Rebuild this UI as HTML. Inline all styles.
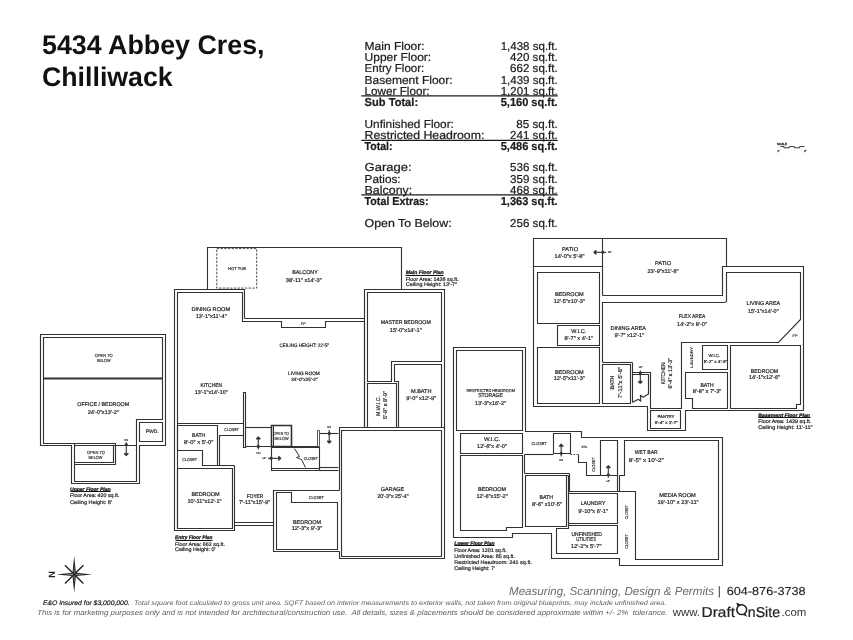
<!DOCTYPE html>
<html><head><meta charset="utf-8"><title>5434 Abbey Cres, Chilliwack</title>
<style>
html,body{margin:0;padding:0;background:#fff;}
body{width:853px;height:640px;overflow:hidden;font-family:"Liberation Sans",sans-serif;}
svg{display:block;}
svg text{font-family:"Liberation Sans",sans-serif;text-rendering:geometricPrecision;}
svg{filter:grayscale(1);}
</style></head><body>
<svg width="853" height="640" viewBox="0 0 853 640">
<rect x="0" y="0" width="853" height="640" fill="#ffffff"/>
<g id="title">
<text x="42" y="54.2" font-size="27" font-weight="bold" fill="#111" textLength="222.5" lengthAdjust="spacingAndGlyphs">5434 Abbey Cres,</text>
<text x="42" y="85.8" font-size="27" font-weight="bold" fill="#111" textLength="130.7" lengthAdjust="spacingAndGlyphs">Chilliwack</text>
</g>
<g id="table">
<text x="364.6" y="49.8" font-size="11.5" font-weight="normal" fill="#1c1c1c" stroke="#1c1c1c" stroke-width="0.22" textLength="60" lengthAdjust="spacingAndGlyphs">Main Floor:</text>
<text x="557.7" y="49.8" font-size="11.5" font-weight="normal" fill="#1c1c1c" stroke="#1c1c1c" stroke-width="0.22" text-anchor="end" textLength="57" lengthAdjust="spacingAndGlyphs">1,438 sq.ft.</text>
<text x="364.6" y="60.9" font-size="11.5" font-weight="normal" fill="#1c1c1c" stroke="#1c1c1c" stroke-width="0.22" textLength="66.6" lengthAdjust="spacingAndGlyphs">Upper Floor:</text>
<text x="557.7" y="60.9" font-size="11.5" font-weight="normal" fill="#1c1c1c" stroke="#1c1c1c" stroke-width="0.22" text-anchor="end" textLength="47.6" lengthAdjust="spacingAndGlyphs">420 sq.ft.</text>
<text x="364.6" y="72.4" font-size="11.5" font-weight="normal" fill="#1c1c1c" stroke="#1c1c1c" stroke-width="0.22" textLength="59.7" lengthAdjust="spacingAndGlyphs">Entry Floor:</text>
<text x="557.7" y="72.4" font-size="11.5" font-weight="normal" fill="#1c1c1c" stroke="#1c1c1c" stroke-width="0.22" text-anchor="end" textLength="47.6" lengthAdjust="spacingAndGlyphs">662 sq.ft.</text>
<text x="364.6" y="83.9" font-size="11.5" font-weight="normal" fill="#1c1c1c" stroke="#1c1c1c" stroke-width="0.22" textLength="88" lengthAdjust="spacingAndGlyphs">Basement Floor:</text>
<text x="557.7" y="83.9" font-size="11.5" font-weight="normal" fill="#1c1c1c" stroke="#1c1c1c" stroke-width="0.22" text-anchor="end" textLength="57" lengthAdjust="spacingAndGlyphs">1,439 sq.ft.</text>
<text x="364.6" y="94.7" font-size="11.5" font-weight="normal" fill="#1c1c1c" stroke="#1c1c1c" stroke-width="0.22" textLength="65" lengthAdjust="spacingAndGlyphs">Lower Floor:</text>
<text x="557.7" y="94.7" font-size="11.5" font-weight="normal" fill="#1c1c1c" stroke="#1c1c1c" stroke-width="0.22" text-anchor="end" textLength="57" lengthAdjust="spacingAndGlyphs">1,201 sq.ft.</text>
<text x="364.6" y="105.6" font-size="11.5" font-weight="bold" fill="#1c1c1c" stroke="#1c1c1c" stroke-width="0.22" textLength="53.5" lengthAdjust="spacingAndGlyphs">Sub Total:</text>
<text x="557.7" y="105.6" font-size="11.5" font-weight="bold" fill="#1c1c1c" stroke="#1c1c1c" stroke-width="0.22" text-anchor="end" textLength="57" lengthAdjust="spacingAndGlyphs">5,160 sq.ft.</text>
<text x="364.6" y="128.2" font-size="11.5" font-weight="normal" fill="#1c1c1c" stroke="#1c1c1c" stroke-width="0.22" textLength="89.3" lengthAdjust="spacingAndGlyphs">Unfinished Floor:</text>
<text x="557.7" y="128.2" font-size="11.5" font-weight="normal" fill="#1c1c1c" stroke="#1c1c1c" stroke-width="0.22" text-anchor="end" textLength="41.4" lengthAdjust="spacingAndGlyphs">85 sq.ft.</text>
<text x="364.6" y="139" font-size="11.5" font-weight="normal" fill="#1c1c1c" stroke="#1c1c1c" stroke-width="0.22" textLength="119.8" lengthAdjust="spacingAndGlyphs">Restricted Headroom:</text>
<text x="557.7" y="139" font-size="11.5" font-weight="normal" fill="#1c1c1c" stroke="#1c1c1c" stroke-width="0.22" text-anchor="end" textLength="47.6" lengthAdjust="spacingAndGlyphs">241 sq.ft.</text>
<text x="364.6" y="149.9" font-size="11.5" font-weight="bold" fill="#1c1c1c" stroke="#1c1c1c" stroke-width="0.22" textLength="27.9" lengthAdjust="spacingAndGlyphs">Total:</text>
<text x="557.7" y="149.9" font-size="11.5" font-weight="bold" fill="#1c1c1c" stroke="#1c1c1c" stroke-width="0.22" text-anchor="end" textLength="57" lengthAdjust="spacingAndGlyphs">5,486 sq.ft.</text>
<text x="364.6" y="171.2" font-size="11.5" font-weight="normal" fill="#1c1c1c" stroke="#1c1c1c" stroke-width="0.22" textLength="47" lengthAdjust="spacingAndGlyphs">Garage:</text>
<text x="557.7" y="171.2" font-size="11.5" font-weight="normal" fill="#1c1c1c" stroke="#1c1c1c" stroke-width="0.22" text-anchor="end" textLength="47.6" lengthAdjust="spacingAndGlyphs">536 sq.ft.</text>
<text x="364.6" y="182.7" font-size="11.5" font-weight="normal" fill="#1c1c1c" stroke="#1c1c1c" stroke-width="0.22" textLength="36" lengthAdjust="spacingAndGlyphs">Patios:</text>
<text x="557.7" y="182.7" font-size="11.5" font-weight="normal" fill="#1c1c1c" stroke="#1c1c1c" stroke-width="0.22" text-anchor="end" textLength="47.6" lengthAdjust="spacingAndGlyphs">359 sq.ft.</text>
<text x="364.6" y="193.9" font-size="11.5" font-weight="normal" fill="#1c1c1c" stroke="#1c1c1c" stroke-width="0.22" textLength="47.6" lengthAdjust="spacingAndGlyphs">Balcony:</text>
<text x="557.7" y="193.9" font-size="11.5" font-weight="normal" fill="#1c1c1c" stroke="#1c1c1c" stroke-width="0.22" text-anchor="end" textLength="47.6" lengthAdjust="spacingAndGlyphs">468 sq.ft.</text>
<text x="364.6" y="205" font-size="11.5" font-weight="bold" fill="#1c1c1c" stroke="#1c1c1c" stroke-width="0.22" textLength="64" lengthAdjust="spacingAndGlyphs">Total Extras:</text>
<text x="557.7" y="205" font-size="11.5" font-weight="bold" fill="#1c1c1c" stroke="#1c1c1c" stroke-width="0.22" text-anchor="end" textLength="57" lengthAdjust="spacingAndGlyphs">1,363 sq.ft.</text>
<text x="364.6" y="226.7" font-size="11.5" font-weight="normal" fill="#1c1c1c" stroke="#1c1c1c" stroke-width="0.22" textLength="87" lengthAdjust="spacingAndGlyphs">Open To Below:</text>
<text x="557.7" y="226.7" font-size="11.5" font-weight="normal" fill="#1c1c1c" stroke="#1c1c1c" stroke-width="0.22" text-anchor="end" textLength="47.6" lengthAdjust="spacingAndGlyphs">256 sq.ft.</text>
<path d="M361.3,95.85 L557.7,95.85" fill="none" stroke="#1a1a1a" stroke-width="1.2" />
<path d="M361.3,140.45 L557.7,140.45" fill="none" stroke="#1a1a1a" stroke-width="1.2" />
<path d="M361.3,194.95 L557.7,194.95" fill="none" stroke="#1a1a1a" stroke-width="1.2" />
</g>
<g id="upper">
<path d="M40.5,334.5 L165.5,334.5 L165.5,445.5 L139.5,445.5 L139.5,483.5 L71.5,483.5 L71.5,445.5 L40.5,445.5 Z" fill="none" stroke="#323232" stroke-width="1.12" />
<path d="M43.5,337.5 L162.5,337.5 L162.5,419.5 L136.5,419.5 L136.5,481.5 L74.5,481.5 L74.5,443.5 L43.5,443.5 Z" fill="none" stroke="#323232" stroke-width="1.12" />
<path d="M139.5,422.5 L162.5,422.5 L162.5,441.5 L139.5,441.5 Z" fill="none" stroke="#323232" stroke-width="1.12" />
<path d="M43.5,378.5 L162.5,378.5" fill="none" stroke="#323232" stroke-width="1.8" />
<path d="M74.5,445.5 L136.5,445.5" fill="none" stroke="#323232" stroke-width="1.12" />
<path d="M74.5,443.5 L115.5,443.5 L115.5,464.5 L74.5,464.5" fill="none" stroke="#323232" stroke-width="1.12" />
<path d="M113.5,445.5 L113.5,462.5 L74.5,462.5" fill="none" stroke="#323232" stroke-width="1.12" />
<path d="M126.25,455 L126.25,442.3" fill="none" stroke="#323232" stroke-width="1.1" />
<path d="M124.15,453.5 Q125.095,455.6 126.25,455.8 Q127.405,455.6 128.35,453.5 Z" fill="#323232" stroke="#323232" stroke-width="0.8" stroke-linejoin="round"/>
<circle cx="126.25" cy="444.5" r="1.55" fill="#323232"/>
</g>
<g id="main">
<path d="M207.5,289.5 L207.5,247.5 L401.5,247.5 L401.5,289.5" fill="none" stroke="#323232" stroke-width="1.12" />
<path d="M216.8,248.6 L256.7,248.6 L256.7,288.1 L216.8,288.1 Z" fill="none" stroke="#3a3a3a" stroke-width="0.9" stroke-dasharray="2.4 1.3"/>
<path d="M244.5,318.5 L244.5,289.5 L174.5,289.5 L174.5,530.5 L234.5,530.5 L234.5,525.5 L273.5,525.5" fill="none" stroke="#323232" stroke-width="1.12" />
<path d="M244.5,318.5 L364.5,318.5" fill="none" stroke="#323232" stroke-width="1.12" />
<path d="M177.5,528.5 L177.5,292.5 L242.5,292.5 L242.5,321.5 L281.5,321.5 L281.5,327.5 L325.5,327.5 L325.5,321.5 L364.5,321.5" fill="none" stroke="#323232" stroke-width="1.12" />
<path d="M364.5,289.5 L444.5,289.5 L444.5,427.5 L364.5,427.5 Z" fill="none" stroke="#323232" stroke-width="1.12" />
<path d="M367.5,292.5 L441.5,292.5 L441.5,361.5 L391.5,361.5 L391.5,381.5 L367.5,381.5 Z" fill="none" stroke="#323232" stroke-width="1.12" />
<path d="M364.5,321.5 L364.5,427.5" fill="none" stroke="#323232" stroke-width="1.12" />
<path d="M394.5,364.5 L441.5,364.5 L441.5,427.5 L398.5,427.5 L398.5,381.5 L394.5,381.5 Z" fill="none" stroke="#323232" stroke-width="1.12" />
<path d="M367.5,383.5 L396.5,383.5 L396.5,427.5 L367.5,427.5 Z" fill="none" stroke="#323232" stroke-width="1.12" />
<path d="M339.5,490.5 L339.5,427.5 L444.5,427.5 L444.5,558.5 L339.5,558.5 L339.5,551.5" fill="none" stroke="#323232" stroke-width="1.12" />
<path d="M341.5,430.5 L441.5,430.5 L441.5,556.5 L341.5,556.5 Z" fill="none" stroke="#323232" stroke-width="1.12" />
<path d="M177.5,423.5 L243.5,423.5" fill="none" stroke="#323232" stroke-width="1.12" />
<path d="M243.5,435.5 L243.5,392.5 L245.5,392.5 L245.5,447.5 L243.5,447.5 L243.5,435.5" fill="none" stroke="#323232" stroke-width="1.12" />
<path d="M177.5,425.5 L217.5,425.5 L217.5,465.5 L202.5,465.5 L202.5,450.5 L177.5,450.5 Z" fill="none" stroke="#323232" stroke-width="1.12" />
<path d="M243.5,435.5 L219.5,435.5 L219.5,465.5" fill="none" stroke="#323232" stroke-width="1.12" />
<path d="M202.5,465.5 L234.5,465.5" fill="none" stroke="#323232" stroke-width="1.12" />
<path d="M177.5,468.5 L232.5,468.5 L232.5,528.5 L177.5,528.5 Z" fill="none" stroke="#323232" stroke-width="1.12" />
<path d="M234.5,465.5 L234.5,525.5" fill="none" stroke="#323232" stroke-width="1.12" />
<path d="M234.5,522.5 L273.5,522.5" fill="none" stroke="#323232" stroke-width="1.12" />
<path d="M245.5,427.5 L271.5,427.5" fill="none" stroke="#323232" stroke-width="1.12" />
<path d="M271.5,425.5 L291.5,425.5 L291.5,446.5 L271.5,446.5 Z" fill="none" stroke="#323232" stroke-width="1.6" />
<path d="M273.5,425.5 L273.5,446.5" fill="none" stroke="#323232" stroke-width="1.0" />
<path d="M245.5,446.5 L318.5,446.5" fill="none" stroke="#323232" stroke-width="1.12" />
<path d="M317.5,430.5 L319.5,430.5 L319.5,446.5 L317.5,446.5 Z" fill="none" stroke="#323232" stroke-width="0.8" />
<path d="M319.5,433.5 L338.5,433.5" fill="none" stroke="#323232" stroke-width="1.12" />
<path d="M271.5,447.5 L319.5,447.5 L319.5,470.5 L271.5,470.5 Z" fill="none" stroke="#323232" stroke-width="1.12" />
<path d="M271.5,468.5 L319.5,468.5" fill="none" stroke="#323232" stroke-width="1.12" />
<path d="M294.5,448.5 L299.5,456.5 L296.5,457.5 L301.5,459.5 L305.5,467.5" fill="none" stroke="#323232" stroke-width="1.0" />
<path d="M319.5,467.5 L338.5,467.5" fill="none" stroke="#323232" stroke-width="1.12" />
<path d="M319.5,470.5 L338.5,470.5" fill="none" stroke="#323232" stroke-width="1.12" />
<path d="M339.5,490.5 L273.5,490.5 L273.5,551.5 L339.5,551.5" fill="none" stroke="#323232" stroke-width="1.12" />
<path d="M276.5,492.5 L291.5,492.5 L291.5,502.5 L337.5,502.5 L337.5,549.5 L276.5,549.5 Z" fill="none" stroke="#323232" stroke-width="1.12" />
<path d="M258.3,437.6 L258.3,449.6" fill="none" stroke="#323232" stroke-width="1.1" />
<path d="M256.2,439.1 Q257.145,437 258.3,436.8 Q259.455,437 260.4,439.1 Z" fill="#323232" stroke="#323232" stroke-width="0.8" stroke-linejoin="round"/>
<circle cx="258.3" cy="446.4" r="1.55" fill="#323232"/>
<path d="M280.1,458.3 L268.1,458.3" fill="none" stroke="#323232" stroke-width="1.1" />
<path d="M278.6,456.2 Q280.7,457.145 280.9,458.3 Q280.7,459.455 278.6,460.4 Z" fill="#323232" stroke="#323232" stroke-width="0.8" stroke-linejoin="round"/>
<circle cx="271.1" cy="458.3" r="1.55" fill="#323232"/>
<path d="M329.2,442.5 L329.2,429.8" fill="none" stroke="#323232" stroke-width="1.1" />
<path d="M327.1,441 Q328.045,443.1 329.2,443.3 Q330.355,443.1 331.3,441 Z" fill="#323232" stroke="#323232" stroke-width="0.8" stroke-linejoin="round"/>
<circle cx="329.2" cy="433.4" r="1.55" fill="#323232"/>
</g>
<g id="lower">
<path d="M453.5,347.5 L525.5,347.5 L525.5,431.5 L581.5,431.5 L581.5,437.5 L722.5,437.5 L722.5,565.5 L619.5,565.5 L619.5,558.5 L551.5,558.5 L551.5,533.5 L512.5,533.5 L512.5,537.5 L453.5,537.5 Z" fill="none" stroke="#323232" stroke-width="1.12" />
<path d="M456.5,350.5 L522.5,350.5 L522.5,430.5 L456.5,430.5 Z" fill="none" stroke="#323232" stroke-width="1.12" />
<path d="M460.5,433.5 L522.5,433.5 L522.5,453.5 L460.5,453.5 Z" fill="none" stroke="#323232" stroke-width="1.12" />
<path d="M460.5,455.5 L522.5,455.5 L522.5,527.5 L506.5,527.5 L506.5,530.5 L460.5,530.5 Z" fill="none" stroke="#323232" stroke-width="1.12" />
<path d="M524.5,454.5 L553.5,454.5" fill="none" stroke="#323232" stroke-width="1.12" />
<path d="M553.5,433.5 L570.5,433.5 L570.5,453.5 L553.5,453.5 Z" fill="none" stroke="#323232" stroke-width="1.12" />
<path d="M570.5,454.5 L578.5,454.5" fill="none" stroke="#323232" stroke-width="0.9" stroke-dasharray="1.7 1.3"/>
<path d="M578.5,454.5 L578.5,462.5 L586.5,462.5 L586.5,475.5 L600.5,475.5" fill="none" stroke="#323232" stroke-width="1.12" />
<path d="M600.5,440.5 L617.5,440.5 L617.5,475.5 L600.5,475.5 Z" fill="none" stroke="#323232" stroke-width="1.12" />
<path d="M617.5,475.5 L617.5,491.5" fill="none" stroke="#323232" stroke-width="1.12" />
<path d="M524.5,454.5 L524.5,473.5" fill="none" stroke="#323232" stroke-width="1.12" />
<path d="M525.5,475.5 L566.5,475.5 L566.5,526.5 L525.5,526.5 Z" fill="none" stroke="#323232" stroke-width="1.12" />
<path d="M524.5,473.5 L569.5,473.5" fill="none" stroke="#323232" stroke-width="1.12" />
<path d="M569.5,473.5 L569.5,473.5 L569.5,491.5 L635.5,491.5 L635.5,559.5 L718.5,559.5 L718.5,440.5 L624.5,440.5 L624.5,475.5 L619.5,475.5 L619.5,491.5" fill="none" stroke="#323232" stroke-width="1.12" />
<path d="M566.5,475.5 L568.5,475.5" fill="none" stroke="#323232" stroke-width="1.12" />
<path d="M568.5,475.5 L568.5,526.5" fill="none" stroke="#323232" stroke-width="1.12" />
<path d="M568.5,493.5 L617.5,493.5 L617.5,523.5 L568.5,523.5 Z" fill="none" stroke="#323232" stroke-width="1.12" />
<path d="M556.5,528.5 L568.5,528.5 L568.5,525.5 L617.5,525.5 L617.5,553.5 L556.5,553.5 Z" fill="none" stroke="#323232" stroke-width="1.12" />
<path d="M561.2,444.8 L561.2,456.4" fill="none" stroke="#323232" stroke-width="1.1" />
<path d="M559.1,446.3 Q560.045,444.2 561.2,444 Q562.355,444.2 563.3,446.3 Z" fill="#323232" stroke="#323232" stroke-width="0.8" stroke-linejoin="round"/>
<circle cx="561.2" cy="453.2" r="1.55" fill="#323232"/>
<path d="M608.3,466.3 L608.3,477.8" fill="none" stroke="#323232" stroke-width="1.1" />
<path d="M606.2,467.8 Q607.145,465.7 608.3,465.5 Q609.455,465.7 610.4,467.8 Z" fill="#323232" stroke="#323232" stroke-width="0.8" stroke-linejoin="round"/>
<circle cx="608.3" cy="474.8" r="1.55" fill="#323232"/>
</g>
<g id="basement">
<path d="M533.5,238.5 L726.5,238.5 L726.5,266.5 L803.5,266.5 L803.5,410.5 L685.5,410.5 L685.5,430.5 L647.5,430.5 L647.5,406.5 L533.5,406.5 Z" fill="none" stroke="#323232" stroke-width="1.12" />
<path d="M602.5,238.5 L602.5,295.5" fill="none" stroke="#323232" stroke-width="1.12" />
<path d="M533.5,266.5 L602.5,266.5" fill="none" stroke="#323232" stroke-width="1.12" />
<path d="M602.5,295.5 L722.5,295.5 L722.5,266.5 L726.5,266.5" fill="none" stroke="#323232" stroke-width="1.12" />
<path d="M602.5,362.5 L602.5,302.5 L724.5,302.5 L726.5,301.5 L726.5,272.5 L800.5,272.5 L800.5,319.5 L778.5,342.5 L681.5,342.5 L681.5,408.5 L650.5,408.5 L650.5,372.5 L632.5,372.5 L632.5,362.5" fill="none" stroke="#323232" stroke-width="1.12" />
<path d="M602.5,362.5 L632.5,362.5" fill="none" stroke="#323232" stroke-width="1.12" />
<path d="M537.5,272.5 L599.5,272.5 L599.5,323.5 L537.5,323.5 Z" fill="none" stroke="#323232" stroke-width="1.12" />
<path d="M557.5,325.5 L599.5,325.5 L599.5,345.5 L557.5,345.5 Z" fill="none" stroke="#323232" stroke-width="1.12" />
<path d="M537.5,347.5 L599.5,347.5 L599.5,403.5 L537.5,403.5 Z" fill="none" stroke="#323232" stroke-width="1.12" />
<path d="M602.5,364.5 L630.5,364.5 L630.5,403.5 L602.5,403.5 Z" fill="none" stroke="#323232" stroke-width="1.12" />
<path d="M632.5,402.5 L632.5,372.5 L650.5,372.5" fill="none" stroke="#323232" stroke-width="1.12" />
<path d="M632.5,374.5 L648.5,374.5 L648.5,394.5" fill="none" stroke="#323232" stroke-width="1.12" />
<path d="M632.6,402.3 L638.4,399.3 L640.8,401.2 L640.4,395.2 L643.1,397.25 L648.4,394" fill="none" stroke="#323232" stroke-width="1.1" stroke-linejoin="round"/>
<path d="M650.5,410.5 L680.5,410.5 L680.5,428.5 L650.5,428.5 Z" fill="none" stroke="#323232" stroke-width="1.12" />
<path d="M685.5,372.5 L727.5,372.5 L727.5,408.5 L692.5,408.5 L692.5,398.5 L685.5,398.5 Z" fill="none" stroke="#323232" stroke-width="1.12" />
<path d="M702.5,345.5 L727.5,345.5 L727.5,369.5 L702.5,369.5 Z" fill="none" stroke="#323232" stroke-width="1.12" />
<path d="M730.5,345.5 L800.5,345.5 L800.5,404.5 L796.5,404.5 L796.5,408.5 L730.5,408.5 Z" fill="none" stroke="#323232" stroke-width="1.12" />
<path d="M594.55,252.3 L606.2,252.3" fill="none" stroke="#323232" stroke-width="1.1" />
<path d="M596.05,250.2 Q593.95,251.145 593.75,252.3 Q593.95,253.455 596.05,254.4 Z" fill="#323232" stroke="#323232" stroke-width="0.8" stroke-linejoin="round"/>
<circle cx="602.9" cy="252.3" r="1.55" fill="#323232"/>
<path d="M640.3,382.8 L640.3,370.4" fill="none" stroke="#323232" stroke-width="1.1" />
<path d="M638.2,381.3 Q639.145,383.4 640.3,383.6 Q641.455,383.4 642.4,381.3 Z" fill="#323232" stroke="#323232" stroke-width="0.8" stroke-linejoin="round"/>
<circle cx="640.3" cy="373" r="1.55" fill="#323232"/>
</g>
<g id="labels">
<text x="103.75" y="357.184" font-size="4.4" text-anchor="middle" font-weight="normal" font-style="normal" fill="#262626" textLength="18" lengthAdjust="spacingAndGlyphs" stroke="#262626" stroke-width="0.16">OPEN TO</text>
<text x="103.75" y="362.284" font-size="4.4" text-anchor="middle" font-weight="normal" font-style="normal" fill="#262626" textLength="13.75" lengthAdjust="spacingAndGlyphs" stroke="#262626" stroke-width="0.16">BELOW</text>
<text x="103.25" y="406.23" font-size="5.5" text-anchor="middle" font-weight="normal" font-style="normal" fill="#262626" textLength="52" lengthAdjust="spacingAndGlyphs" stroke="#262626" stroke-width="0.2">OFFICE / BEDROOM</text>
<text x="103.25" y="414.48" font-size="5.5" text-anchor="middle" font-weight="normal" font-style="normal" fill="#262626" textLength="31.25" lengthAdjust="spacingAndGlyphs" stroke="#262626" stroke-width="0.2">24'-0"x13'-2"</text>
<text x="152.2" y="433.1" font-size="5" text-anchor="middle" font-weight="normal" font-style="normal" fill="#262626" textLength="13" lengthAdjust="spacingAndGlyphs" stroke="#262626" stroke-width="0.2">PWD.</text>
<text x="126.25" y="441.044" font-size="2.9" text-anchor="middle" font-weight="normal" font-style="normal" fill="#262626" textLength="3.8" lengthAdjust="spacingAndGlyphs" stroke="#262626" stroke-width="0.16">DN</text>
<text x="96" y="453.684" font-size="4.4" text-anchor="middle" font-weight="normal" font-style="normal" fill="#262626" textLength="17.8" lengthAdjust="spacingAndGlyphs" stroke="#262626" stroke-width="0.16">OPEN TO</text>
<text x="95.5" y="458.684" font-size="4.4" text-anchor="middle" font-weight="normal" font-style="normal" fill="#262626" textLength="14" lengthAdjust="spacingAndGlyphs" stroke="#262626" stroke-width="0.16">BELOW</text>
<text x="237" y="270.262" font-size="4.2" text-anchor="middle" font-weight="normal" font-style="normal" fill="#262626" textLength="18" lengthAdjust="spacingAndGlyphs" stroke="#262626" stroke-width="0.16">HOT TUB</text>
<text x="305" y="274.48" font-size="5.5" text-anchor="middle" font-weight="normal" font-style="normal" fill="#262626" textLength="25.5" lengthAdjust="spacingAndGlyphs" stroke="#262626" stroke-width="0.2">BALCONY</text>
<text x="303.75" y="281.98" font-size="5.5" text-anchor="middle" font-weight="normal" font-style="normal" fill="#262626" textLength="36" lengthAdjust="spacingAndGlyphs" stroke="#262626" stroke-width="0.2">38'-11" x14'-3"</text>
<text x="210.75" y="310.73" font-size="5.5" text-anchor="middle" font-weight="normal" font-style="normal" fill="#262626" textLength="38.75" lengthAdjust="spacingAndGlyphs" stroke="#262626" stroke-width="0.2">DINING ROOM</text>
<text x="211.25" y="318.23" font-size="5.5" text-anchor="middle" font-weight="normal" font-style="normal" fill="#262626" textLength="31" lengthAdjust="spacingAndGlyphs" stroke="#262626" stroke-width="0.2">13'-1"x11'-4"</text>
<text x="303.25" y="324.896" font-size="3.6" text-anchor="middle" font-weight="normal" font-style="normal" fill="#262626" textLength="5" lengthAdjust="spacingAndGlyphs" stroke="#262626" stroke-width="0.16">FP</text>
<text x="304.25" y="346.8" font-size="5" text-anchor="middle" font-weight="normal" font-style="normal" fill="#262626" textLength="49.75" lengthAdjust="spacingAndGlyphs" stroke="#262626" stroke-width="0.2">CEILING HEIGHT: 22'-5"</text>
<text x="303.95" y="374.828" font-size="4.8" text-anchor="middle" font-weight="normal" font-style="normal" fill="#262626" textLength="31.8" lengthAdjust="spacingAndGlyphs" stroke="#262626" stroke-width="0.2">LIVING ROOM</text>
<text x="304.4" y="380.656" font-size="4.6" text-anchor="middle" font-weight="normal" font-style="normal" fill="#262626" textLength="26.4" lengthAdjust="spacingAndGlyphs" stroke="#262626" stroke-width="0.2">24'-0"x25'-2"</text>
<text x="211.25" y="387.48" font-size="5.5" text-anchor="middle" font-weight="normal" font-style="normal" fill="#262626" textLength="21.75" lengthAdjust="spacingAndGlyphs" stroke="#262626" stroke-width="0.2">KITCHEN</text>
<text x="211.25" y="394.48" font-size="5.5" text-anchor="middle" font-weight="normal" font-style="normal" fill="#262626" textLength="33" lengthAdjust="spacingAndGlyphs" stroke="#262626" stroke-width="0.2">13'-1"x14'-10"</text>
<text x="231.6" y="431.112" font-size="4.2" text-anchor="middle" font-weight="normal" font-style="normal" fill="#262626" textLength="14.5" lengthAdjust="spacingAndGlyphs" stroke="#262626" stroke-width="0.16">CLOSET</text>
<text x="198.6" y="437.28" font-size="5.5" text-anchor="middle" font-weight="normal" font-style="normal" fill="#262626" textLength="13" lengthAdjust="spacingAndGlyphs" stroke="#262626" stroke-width="0.2">BATH</text>
<text x="198.6" y="443.58" font-size="5.5" text-anchor="middle" font-weight="normal" font-style="normal" fill="#262626" textLength="29.3" lengthAdjust="spacingAndGlyphs" stroke="#262626" stroke-width="0.2">8'-0" x 5'-0"</text>
<text x="189.6" y="461.312" font-size="4.2" text-anchor="middle" font-weight="normal" font-style="normal" fill="#262626" textLength="14.8" lengthAdjust="spacingAndGlyphs" stroke="#262626" stroke-width="0.16">CLOSET</text>
<text x="205.5" y="496.23" font-size="5.5" text-anchor="middle" font-weight="normal" font-style="normal" fill="#262626" textLength="28.25" lengthAdjust="spacingAndGlyphs" stroke="#262626" stroke-width="0.2">BEDROOM</text>
<text x="204.5" y="502.73" font-size="5.5" text-anchor="middle" font-weight="normal" font-style="normal" fill="#262626" textLength="34.25" lengthAdjust="spacingAndGlyphs" stroke="#262626" stroke-width="0.2">10'-11"x12'-1"</text>
<text x="255" y="497.73" font-size="5.5" text-anchor="middle" font-weight="normal" font-style="normal" fill="#262626" textLength="16.5" lengthAdjust="spacingAndGlyphs" stroke="#262626" stroke-width="0.2">FOYER</text>
<text x="254.5" y="504.48" font-size="5.5" text-anchor="middle" font-weight="normal" font-style="normal" fill="#262626" textLength="31.25" lengthAdjust="spacingAndGlyphs" stroke="#262626" stroke-width="0.2">7'-11"x15'-9"</text>
<text x="316.25" y="498.512" font-size="4.2" text-anchor="middle" font-weight="normal" font-style="normal" fill="#262626" textLength="15" lengthAdjust="spacingAndGlyphs" stroke="#262626" stroke-width="0.16">CLOSET</text>
<text x="307" y="523.98" font-size="5.5" text-anchor="middle" font-weight="normal" font-style="normal" fill="#262626" textLength="28" lengthAdjust="spacingAndGlyphs" stroke="#262626" stroke-width="0.2">BEDROOM</text>
<text x="307" y="530.23" font-size="5.5" text-anchor="middle" font-weight="normal" font-style="normal" fill="#262626" textLength="30.75" lengthAdjust="spacingAndGlyphs" stroke="#262626" stroke-width="0.2">12'-3"x 9'-3"</text>
<text x="281.1" y="434.584" font-size="4.4" text-anchor="middle" font-weight="normal" font-style="normal" fill="#262626" textLength="15.5" lengthAdjust="spacingAndGlyphs" stroke="#262626" stroke-width="0.16">OPEN TO</text>
<text x="281.6" y="440.184" font-size="4.4" text-anchor="middle" font-weight="normal" font-style="normal" fill="#262626" textLength="14" lengthAdjust="spacingAndGlyphs" stroke="#262626" stroke-width="0.16">BELOW</text>
<text x="310.8" y="460.412" font-size="4.2" text-anchor="middle" font-weight="normal" font-style="normal" fill="#262626" textLength="14.2" lengthAdjust="spacingAndGlyphs" stroke="#262626" stroke-width="0.16">CLOSET</text>
<text x="258.5" y="453.944" font-size="2.9" text-anchor="middle" font-weight="normal" font-style="normal" fill="#262626" textLength="3.8" lengthAdjust="spacingAndGlyphs" stroke="#262626" stroke-width="0.16">DN</text>
<text x="264.5" y="459.344" font-size="2.9" text-anchor="middle" font-weight="normal" font-style="normal" fill="#262626" textLength="3.8" lengthAdjust="spacingAndGlyphs" stroke="#262626" stroke-width="0.16">UP</text>
<text x="329.2" y="427.944" font-size="2.9" text-anchor="middle" font-weight="normal" font-style="normal" fill="#262626" textLength="3.8" lengthAdjust="spacingAndGlyphs" stroke="#262626" stroke-width="0.16">DN</text>
<text x="405.75" y="324.48" font-size="5.5" text-anchor="middle" font-weight="normal" font-style="normal" fill="#262626" textLength="50" lengthAdjust="spacingAndGlyphs" stroke="#262626" stroke-width="0.2">MASTER BEDROOM</text>
<text x="405.75" y="331.98" font-size="5.5" text-anchor="middle" font-weight="normal" font-style="normal" fill="#262626" textLength="32" lengthAdjust="spacingAndGlyphs" stroke="#262626" stroke-width="0.2">15'-0"x14'-1"</text>
<text x="421.25" y="393.23" font-size="5.5" text-anchor="middle" font-weight="normal" font-style="normal" fill="#262626" textLength="20.5" lengthAdjust="spacingAndGlyphs" stroke="#262626" stroke-width="0.2">M.BATH</text>
<text x="421.25" y="400.23" font-size="5.5" text-anchor="middle" font-weight="normal" font-style="normal" fill="#262626" textLength="30" lengthAdjust="spacingAndGlyphs" stroke="#262626" stroke-width="0.2">9'-0" x12'-9"</text>
<text x="377.8" y="407.98" font-size="5.5" text-anchor="middle" font-weight="normal" font-style="normal" fill="#262626" textLength="20" lengthAdjust="spacingAndGlyphs" transform="rotate(-90 377.8 406)" stroke="#262626" stroke-width="0.2">M.W.I.C.</text>
<text x="385.2" y="406.88" font-size="5.5" text-anchor="middle" font-weight="normal" font-style="normal" fill="#262626" textLength="28" lengthAdjust="spacingAndGlyphs" transform="rotate(-90 385.2 404.9)" stroke="#262626" stroke-width="0.2">5'-8" x 8'-9"</text>
<text x="392.5" y="490.73" font-size="5.5" text-anchor="middle" font-weight="normal" font-style="normal" fill="#262626" textLength="23.5" lengthAdjust="spacingAndGlyphs" stroke="#262626" stroke-width="0.2">GARAGE</text>
<text x="393" y="497.73" font-size="5.5" text-anchor="middle" font-weight="normal" font-style="normal" fill="#262626" textLength="31.25" lengthAdjust="spacingAndGlyphs" stroke="#262626" stroke-width="0.2">20'-3"x 25'-4"</text>
<text x="490.8" y="392.048" font-size="4.3" text-anchor="middle" font-weight="normal" font-style="normal" fill="#262626" textLength="48.5" lengthAdjust="spacingAndGlyphs" stroke="#262626" stroke-width="0.16">RESTRICTED HEADROOM</text>
<text x="490.5" y="397.38" font-size="5.5" text-anchor="middle" font-weight="normal" font-style="normal" fill="#262626" textLength="24.5" lengthAdjust="spacingAndGlyphs" stroke="#262626" stroke-width="0.2">STORAGE</text>
<text x="490.5" y="404.88" font-size="5.5" text-anchor="middle" font-weight="normal" font-style="normal" fill="#262626" textLength="31.25" lengthAdjust="spacingAndGlyphs" stroke="#262626" stroke-width="0.2">13'-3"x16'-2"</text>
<text x="492" y="440.73" font-size="5.5" text-anchor="middle" font-weight="normal" font-style="normal" fill="#262626" textLength="16.25" lengthAdjust="spacingAndGlyphs" stroke="#262626" stroke-width="0.2">W.I.C.</text>
<text x="492" y="447.73" font-size="5.5" text-anchor="middle" font-weight="normal" font-style="normal" fill="#262626" textLength="30" lengthAdjust="spacingAndGlyphs" stroke="#262626" stroke-width="0.2">12'-6"x 4'-0"</text>
<text x="492" y="490.73" font-size="5.5" text-anchor="middle" font-weight="normal" font-style="normal" fill="#262626" textLength="28.25" lengthAdjust="spacingAndGlyphs" stroke="#262626" stroke-width="0.2">BEDROOM</text>
<text x="492" y="497.73" font-size="5.5" text-anchor="middle" font-weight="normal" font-style="normal" fill="#262626" textLength="31.25" lengthAdjust="spacingAndGlyphs" stroke="#262626" stroke-width="0.2">12'-6"x15'-2"</text>
<text x="539" y="444.812" font-size="4.2" text-anchor="middle" font-weight="normal" font-style="normal" fill="#262626" textLength="15.2" lengthAdjust="spacingAndGlyphs" stroke="#262626" stroke-width="0.16">CLOSET</text>
<text x="561.25" y="460.544" font-size="2.9" text-anchor="middle" font-weight="normal" font-style="normal" fill="#262626" textLength="3.8" lengthAdjust="spacingAndGlyphs" stroke="#262626" stroke-width="0.16">DN</text>
<text x="584.4" y="448.18" font-size="3" text-anchor="middle" font-weight="normal" font-style="normal" fill="#262626" textLength="5.9" lengthAdjust="spacingAndGlyphs" stroke="#262626" stroke-width="0.16">STO.</text>
<text x="593.2" y="466.212" font-size="4.2" text-anchor="middle" font-weight="normal" font-style="normal" fill="#262626" textLength="14.8" lengthAdjust="spacingAndGlyphs" transform="rotate(-90 593.2 464.7)" stroke="#262626" stroke-width="0.16">CLOSET</text>
<text x="608.3" y="482.044" font-size="2.9" text-anchor="middle" font-weight="normal" font-style="normal" fill="#262626" textLength="3.8" lengthAdjust="spacingAndGlyphs" stroke="#262626" stroke-width="0.16">UP</text>
<text x="546.25" y="499.48" font-size="5.5" text-anchor="middle" font-weight="normal" font-style="normal" fill="#262626" textLength="13.5" lengthAdjust="spacingAndGlyphs" stroke="#262626" stroke-width="0.2">BATH</text>
<text x="547" y="506.23" font-size="5.5" text-anchor="middle" font-weight="normal" font-style="normal" fill="#262626" textLength="30" lengthAdjust="spacingAndGlyphs" stroke="#262626" stroke-width="0.2">8'-6" x10'-5"</text>
<text x="593" y="505.23" font-size="5.5" text-anchor="middle" font-weight="normal" font-style="normal" fill="#262626" textLength="24.75" lengthAdjust="spacingAndGlyphs" stroke="#262626" stroke-width="0.2">LAUNDRY</text>
<text x="593" y="513.23" font-size="5.5" text-anchor="middle" font-weight="normal" font-style="normal" fill="#262626" textLength="29.75" lengthAdjust="spacingAndGlyphs" stroke="#262626" stroke-width="0.2">9'-10"x 6'-1"</text>
<text x="586.7" y="535.58" font-size="5.5" text-anchor="middle" font-weight="normal" font-style="normal" fill="#262626" textLength="30.5" lengthAdjust="spacingAndGlyphs" stroke="#262626" stroke-width="0.2">UNFINISHED</text>
<text x="586.1" y="540.88" font-size="5.5" text-anchor="middle" font-weight="normal" font-style="normal" fill="#262626" textLength="19.7" lengthAdjust="spacingAndGlyphs" stroke="#262626" stroke-width="0.2">UTILITIES</text>
<text x="586.1" y="547.68" font-size="5.5" text-anchor="middle" font-weight="normal" font-style="normal" fill="#262626" textLength="30.8" lengthAdjust="spacingAndGlyphs" stroke="#262626" stroke-width="0.2">12'-2"x 5'-7"</text>
<text x="626.2" y="513.812" font-size="4.2" text-anchor="middle" font-weight="normal" font-style="normal" fill="#262626" textLength="14" lengthAdjust="spacingAndGlyphs" transform="rotate(-90 626.2 512.3)" stroke="#262626" stroke-width="0.16">CLOSET</text>
<text x="626.2" y="543.112" font-size="4.2" text-anchor="middle" font-weight="normal" font-style="normal" fill="#262626" textLength="14.4" lengthAdjust="spacingAndGlyphs" transform="rotate(-90 626.2 541.6)" stroke="#262626" stroke-width="0.16">CLOSET</text>
<text x="646.25" y="454.48" font-size="5.5" text-anchor="middle" font-weight="normal" font-style="normal" fill="#262626" textLength="23" lengthAdjust="spacingAndGlyphs" stroke="#262626" stroke-width="0.2">WET BAR</text>
<text x="646.25" y="462.48" font-size="5.5" text-anchor="middle" font-weight="normal" font-style="normal" fill="#262626" textLength="35" lengthAdjust="spacingAndGlyphs" stroke="#262626" stroke-width="0.2">8'-5"  x  10'-2"</text>
<text x="677.5" y="496.98" font-size="5.5" text-anchor="middle" font-weight="normal" font-style="normal" fill="#262626" textLength="36.5" lengthAdjust="spacingAndGlyphs" stroke="#262626" stroke-width="0.2">MEDIA ROOM</text>
<text x="678" y="504.48" font-size="5.5" text-anchor="middle" font-weight="normal" font-style="normal" fill="#262626" textLength="41.25" lengthAdjust="spacingAndGlyphs" stroke="#262626" stroke-width="0.2">19'-10" x 23'-11"</text>
<text x="570" y="250.73" font-size="5.5" text-anchor="middle" font-weight="normal" font-style="normal" fill="#262626" textLength="16" lengthAdjust="spacingAndGlyphs" stroke="#262626" stroke-width="0.2">PATIO</text>
<text x="569.5" y="258.23" font-size="5.5" text-anchor="middle" font-weight="normal" font-style="normal" fill="#262626" textLength="30" lengthAdjust="spacingAndGlyphs" stroke="#262626" stroke-width="0.2">14'-0"x 5'-8"</text>
<text x="609.8" y="253.344" font-size="2.9" text-anchor="middle" font-weight="normal" font-style="normal" fill="#262626" textLength="3.8" lengthAdjust="spacingAndGlyphs" stroke="#262626" stroke-width="0.16">UP</text>
<text x="663" y="265.23" font-size="5.5" text-anchor="middle" font-weight="normal" font-style="normal" fill="#262626" textLength="16.25" lengthAdjust="spacingAndGlyphs" stroke="#262626" stroke-width="0.2">PATIO</text>
<text x="663" y="273.23" font-size="5.5" text-anchor="middle" font-weight="normal" font-style="normal" fill="#262626" textLength="31.25" lengthAdjust="spacingAndGlyphs" stroke="#262626" stroke-width="0.2">23'-9"x11'-6"</text>
<text x="569.25" y="295.73" font-size="5.5" text-anchor="middle" font-weight="normal" font-style="normal" fill="#262626" textLength="28.75" lengthAdjust="spacingAndGlyphs" stroke="#262626" stroke-width="0.2">BEDROOM</text>
<text x="569.25" y="302.73" font-size="5.5" text-anchor="middle" font-weight="normal" font-style="normal" fill="#262626" textLength="31.25" lengthAdjust="spacingAndGlyphs" stroke="#262626" stroke-width="0.2">12'-5"x10'-3"</text>
<text x="578.75" y="333.23" font-size="5.5" text-anchor="middle" font-weight="normal" font-style="normal" fill="#262626" textLength="15" lengthAdjust="spacingAndGlyphs" stroke="#262626" stroke-width="0.2">W.I.C.</text>
<text x="578.75" y="340.23" font-size="5.5" text-anchor="middle" font-weight="normal" font-style="normal" fill="#262626" textLength="28.75" lengthAdjust="spacingAndGlyphs" stroke="#262626" stroke-width="0.2">8'-7" x 4'-1"</text>
<text x="628.25" y="329.98" font-size="5.5" text-anchor="middle" font-weight="normal" font-style="normal" fill="#262626" textLength="35.5" lengthAdjust="spacingAndGlyphs" stroke="#262626" stroke-width="0.2">DINING AREA</text>
<text x="629.25" y="336.98" font-size="5.5" text-anchor="middle" font-weight="normal" font-style="normal" fill="#262626" textLength="29.75" lengthAdjust="spacingAndGlyphs" stroke="#262626" stroke-width="0.2">9'-7" x12'-1"</text>
<text x="692" y="318.23" font-size="5.5" text-anchor="middle" font-weight="normal" font-style="normal" fill="#262626" textLength="26.75" lengthAdjust="spacingAndGlyphs" stroke="#262626" stroke-width="0.2">FLEX AREA</text>
<text x="692" y="326.23" font-size="5.5" text-anchor="middle" font-weight="normal" font-style="normal" fill="#262626" textLength="30" lengthAdjust="spacingAndGlyphs" stroke="#262626" stroke-width="0.2">14'-2"x 8'-0"</text>
<text x="569.25" y="373.98" font-size="5.5" text-anchor="middle" font-weight="normal" font-style="normal" fill="#262626" textLength="28.75" lengthAdjust="spacingAndGlyphs" stroke="#262626" stroke-width="0.2">BEDROOM</text>
<text x="569.25" y="380.23" font-size="5.5" text-anchor="middle" font-weight="normal" font-style="normal" fill="#262626" textLength="31.25" lengthAdjust="spacingAndGlyphs" stroke="#262626" stroke-width="0.2">12'-5"x11'-3"</text>
<text x="691.75" y="358.868" font-size="3.8" text-anchor="middle" font-weight="normal" font-style="normal" fill="#262626" textLength="20.5" lengthAdjust="spacingAndGlyphs" transform="rotate(-90 691.75 357.5)" stroke="#262626" stroke-width="0.16">LAUNDRY</text>
<text x="714.4" y="356.548" font-size="4.3" text-anchor="middle" font-weight="normal" font-style="normal" fill="#262626" textLength="11.8" lengthAdjust="spacingAndGlyphs" stroke="#262626" stroke-width="0.2">W.I.C.</text>
<text x="715.4" y="362.748" font-size="4.3" text-anchor="middle" font-weight="normal" font-style="normal" fill="#262626" textLength="23.5" lengthAdjust="spacingAndGlyphs" stroke="#262626" stroke-width="0.2">5'-2" x 4'-9"</text>
<text x="763.25" y="305.23" font-size="5.5" text-anchor="middle" font-weight="normal" font-style="normal" fill="#262626" textLength="33.75" lengthAdjust="spacingAndGlyphs" stroke="#262626" stroke-width="0.2">LIVING AREA</text>
<text x="763.25" y="312.73" font-size="5.5" text-anchor="middle" font-weight="normal" font-style="normal" fill="#262626" textLength="30.75" lengthAdjust="spacingAndGlyphs" stroke="#262626" stroke-width="0.2">15'-1"x14'-0"</text>
<text x="795" y="337.046" font-size="3.6" text-anchor="middle" font-weight="normal" font-style="normal" fill="#262626" textLength="5" lengthAdjust="spacingAndGlyphs" stroke="#262626" stroke-width="0.16">FP</text>
<text x="764.5" y="372.73" font-size="5.5" text-anchor="middle" font-weight="normal" font-style="normal" fill="#262626" textLength="27.5" lengthAdjust="spacingAndGlyphs" stroke="#262626" stroke-width="0.2">BEDROOM</text>
<text x="764.5" y="379.48" font-size="5.5" text-anchor="middle" font-weight="normal" font-style="normal" fill="#262626" textLength="31.25" lengthAdjust="spacingAndGlyphs" stroke="#262626" stroke-width="0.2">14'-1"x12'-6"</text>
<text x="612.5" y="384.48" font-size="5.5" text-anchor="middle" font-weight="normal" font-style="normal" fill="#262626" textLength="14" lengthAdjust="spacingAndGlyphs" transform="rotate(-90 612.5 382.5)" stroke="#262626" stroke-width="0.2">BATH</text>
<text x="620" y="384.48" font-size="5.5" text-anchor="middle" font-weight="normal" font-style="normal" fill="#262626" textLength="31.25" lengthAdjust="spacingAndGlyphs" transform="rotate(-90 620 382.5)" stroke="#262626" stroke-width="0.2">7'-11"x 5'-8"</text>
<text x="640.6" y="368.444" font-size="2.9" text-anchor="middle" font-weight="normal" font-style="normal" fill="#262626" textLength="3.8" lengthAdjust="spacingAndGlyphs" stroke="#262626" stroke-width="0.16">UP</text>
<text x="663.25" y="375.23" font-size="5.5" text-anchor="middle" font-weight="normal" font-style="normal" fill="#262626" textLength="21.75" lengthAdjust="spacingAndGlyphs" transform="rotate(-90 663.25 373.25)" stroke="#262626" stroke-width="0.2">KITCHEN</text>
<text x="670" y="375.23" font-size="5.5" text-anchor="middle" font-weight="normal" font-style="normal" fill="#262626" textLength="30.5" lengthAdjust="spacingAndGlyphs" transform="rotate(-90 670 373.25)" stroke="#262626" stroke-width="0.2">6'-4" x 13'-3"</text>
<text x="707" y="386.98" font-size="5.5" text-anchor="middle" font-weight="normal" font-style="normal" fill="#262626" textLength="13.25" lengthAdjust="spacingAndGlyphs" stroke="#262626" stroke-width="0.2">BATH</text>
<text x="707" y="393.23" font-size="5.5" text-anchor="middle" font-weight="normal" font-style="normal" fill="#262626" textLength="28.75" lengthAdjust="spacingAndGlyphs" stroke="#262626" stroke-width="0.2">8'-8" x 7'-3"</text>
<text x="666" y="417.812" font-size="4.2" text-anchor="middle" font-weight="normal" font-style="normal" fill="#262626" textLength="16.8" lengthAdjust="spacingAndGlyphs" stroke="#262626" stroke-width="0.2">PANTRY</text>
<text x="666.3" y="423.812" font-size="4.2" text-anchor="middle" font-weight="normal" font-style="normal" fill="#262626" textLength="23.2" lengthAdjust="spacingAndGlyphs" stroke="#262626" stroke-width="0.2">6'-4" x 3'-7"</text>
<text x="70" y="490.8" font-size="5" text-anchor="start" font-weight="bold" font-style="italic" fill="#111" textLength="40.5" lengthAdjust="spacingAndGlyphs" stroke="#111" stroke-width="0.25">Upper Floor Plan</text>
<path d="M70.5,491.5 L110.5,491.5" fill="none" stroke="#111" stroke-width="1.0" />
<text x="70" y="497.372" font-size="5.2" text-anchor="start" font-weight="normal" font-style="normal" fill="#262626" textLength="49.5" lengthAdjust="spacingAndGlyphs" stroke="#262626" stroke-width="0.2">Floor Area: 420 sq.ft.</text>
<text x="70" y="503.622" font-size="5.2" text-anchor="start" font-weight="normal" font-style="normal" fill="#262626" textLength="42" lengthAdjust="spacingAndGlyphs" stroke="#262626" stroke-width="0.2">Ceiling Height: 8'</text>
<text x="175" y="539.05" font-size="5" text-anchor="start" font-weight="bold" font-style="italic" fill="#111" textLength="37.5" lengthAdjust="spacingAndGlyphs" stroke="#111" stroke-width="0.25">Entry Floor Plan</text>
<path d="M175.5,540.5 L212.5,540.5" fill="none" stroke="#111" stroke-width="1.0" />
<text x="175" y="545.622" font-size="5.2" text-anchor="start" font-weight="normal" font-style="normal" fill="#262626" textLength="50" lengthAdjust="spacingAndGlyphs" stroke="#262626" stroke-width="0.2">Floor Area: 662 sq.ft.</text>
<text x="175" y="551.372" font-size="5.2" text-anchor="start" font-weight="normal" font-style="normal" fill="#262626" textLength="40.5" lengthAdjust="spacingAndGlyphs" stroke="#262626" stroke-width="0.2">Ceiling Height: 0'</text>
<text x="405.75" y="274.05" font-size="5" text-anchor="start" font-weight="bold" font-style="italic" fill="#111" textLength="38" lengthAdjust="spacingAndGlyphs" stroke="#111" stroke-width="0.25">Main Floor Plan</text>
<path d="M405.5,275.5 L443.5,275.5" fill="none" stroke="#111" stroke-width="1.0" />
<text x="405.75" y="280.622" font-size="5.2" text-anchor="start" font-weight="normal" font-style="normal" fill="#262626" textLength="53" lengthAdjust="spacingAndGlyphs" stroke="#262626" stroke-width="0.2">Floor Area: 1438 sq.ft.</text>
<text x="405.75" y="286.372" font-size="5.2" text-anchor="start" font-weight="normal" font-style="normal" fill="#262626" textLength="51.25" lengthAdjust="spacingAndGlyphs" stroke="#262626" stroke-width="0.2">Ceiling Height: 13'-7"</text>
<text x="454.25" y="544.8" font-size="5" text-anchor="start" font-weight="bold" font-style="italic" fill="#111" textLength="40.25" lengthAdjust="spacingAndGlyphs" stroke="#111" stroke-width="0.25">Lower Floor Plan</text>
<path d="M454.5,545.5 L494.5,545.5" fill="none" stroke="#111" stroke-width="1.0" />
<text x="454.25" y="551.872" font-size="5.2" text-anchor="start" font-weight="normal" font-style="normal" fill="#262626" textLength="52.5" lengthAdjust="spacingAndGlyphs" stroke="#262626" stroke-width="0.2">Floor Area: 1201 sq.ft.</text>
<text x="454.25" y="558.122" font-size="5.2" text-anchor="start" font-weight="normal" font-style="normal" fill="#262626" textLength="60.75" lengthAdjust="spacingAndGlyphs" stroke="#262626" stroke-width="0.2">Unfinished Area: 85 sq.ft.</text>
<text x="454.25" y="563.622" font-size="5.2" text-anchor="start" font-weight="normal" font-style="normal" fill="#262626" textLength="77.75" lengthAdjust="spacingAndGlyphs" stroke="#262626" stroke-width="0.2">Restricted Headroom: 241 sq.ft.</text>
<text x="454.25" y="569.872" font-size="5.2" text-anchor="start" font-weight="normal" font-style="normal" fill="#262626" textLength="40.75" lengthAdjust="spacingAndGlyphs" stroke="#262626" stroke-width="0.2">Ceiling Height: 7'</text>
<text x="758.25" y="416.55" font-size="5" text-anchor="start" font-weight="bold" font-style="italic" fill="#111" textLength="51.75" lengthAdjust="spacingAndGlyphs" stroke="#111" stroke-width="0.25">Basement Floor Plan</text>
<path d="M758.5,417.5 L810.5,417.5" fill="none" stroke="#111" stroke-width="1.0" />
<text x="758.25" y="423.122" font-size="5.2" text-anchor="start" font-weight="normal" font-style="normal" fill="#262626" textLength="53" lengthAdjust="spacingAndGlyphs" stroke="#262626" stroke-width="0.2">Floor Area: 1439 sq.ft.</text>
<text x="758.25" y="428.872" font-size="5.2" text-anchor="start" font-weight="normal" font-style="normal" fill="#262626" textLength="54.25" lengthAdjust="spacingAndGlyphs" stroke="#262626" stroke-width="0.2">Ceiling Height: 11'-11"</text>
</g>
<g id="footer">
<path d="M65.0,565.1999999999999 L83.4,583.6 M83.4,565.1999999999999 L65.0,583.6" stroke="#1e1e1e" stroke-width="1.35" fill="none"/>
<path d="M74.2,556.0 L75.9,572.6999999999999 L92.1,574.4 L75.9,576.1 L74.2,592.8 L72.5,576.1 L56.300000000000004,574.4 L72.5,572.6999999999999 Z" fill="#1e1e1e"/>
<path d="M64.2,574.4 L73.2,573.5 L84.2,574.4 L73.2,575.3 Z" fill="#8a8a8a"/>
<path d="M74.2,564.4 L75.0,574.4 L74.2,584.4 L73.4,574.4 Z" fill="#777"/>
<circle cx="74.2" cy="574.4" r="1.2" fill="#111"/>
<text x="51.6" y="577.712" font-size="9.2" text-anchor="middle" font-weight="bold" font-style="normal" fill="#222" transform="rotate(-90 51.6 574.4)" >N</text>
<text x="782" y="144.88" font-size="3" text-anchor="middle" font-weight="normal" font-style="normal" fill="#222" textLength="9.8" lengthAdjust="spacingAndGlyphs" stroke="#222" stroke-width="0.25">SCALE</text>
<path d="M780.4,146.6 L784,146.6 L784,147.8 L789.2,147.8 L789.2,146.6 L794.4,146.6 L794.4,147.8 L799.6,147.8 L799.6,146.6 L804.6,146.6" fill="none" stroke="#222" stroke-width="0.9" />
<text x="778.6" y="152.28" font-size="3" text-anchor="middle" font-weight="normal" font-style="italic" fill="#333" stroke="#333" stroke-width="0.2">0'</text>
<text x="805.2" y="152.28" font-size="3" text-anchor="middle" font-weight="normal" font-style="italic" fill="#333" stroke="#333" stroke-width="0.2">8'</text>
<text x="42.9" y="605.076" font-size="6.6" text-anchor="start" font-weight="normal" font-style="italic" fill="#222" textLength="86.7" lengthAdjust="spacingAndGlyphs" stroke="#222" stroke-width="0.2">E&amp;O Insured for $3,000,000.</text>
<text x="133.9" y="605.076" font-size="6.6" text-anchor="start" font-weight="normal" font-style="italic" fill="#606060" textLength="532.4" lengthAdjust="spacingAndGlyphs" >Total square foot calculated to gross unit area. SQFT based on interior measurements to exterior walls, not taken from original blueprints, may include unfinished area.</text>
<text x="37.2" y="614.964" font-size="7.4" text-anchor="start" font-weight="normal" font-style="italic" fill="#606060" textLength="630.3" lengthAdjust="spacingAndGlyphs" xml:space="preserve">This is for marketing purposes only and is not intended for architectural/construction use.  All details, sizes &amp; placements should be considered approximate within +/- 2%  tolerance.</text>
<text x="509" y="594.876" font-size="11.6" text-anchor="start" font-weight="normal" font-style="italic" fill="#6a6a6a" textLength="205" lengthAdjust="spacingAndGlyphs" >Measuring, Scanning, Design &amp; Permits</text>
<text x="719.4" y="594.52" font-size="12" text-anchor="middle" font-weight="normal" font-style="normal" fill="#333" >|</text>
<text x="726.8" y="594.876" font-size="11.6" text-anchor="start" font-weight="normal" font-style="normal" fill="#222" textLength="78.7" lengthAdjust="spacingAndGlyphs" stroke="#222" stroke-width="0.12">604-876-3738</text>
<text x="672.8" y="616.432" font-size="11.2" text-anchor="start" font-weight="normal" font-style="normal" fill="#333" textLength="27.2" lengthAdjust="spacingAndGlyphs" >www.</text>
<text x="701.6" y="616.548" font-size="14.3" text-anchor="start" font-weight="normal" font-style="normal" fill="#222" textLength="33.4" lengthAdjust="spacingAndGlyphs" stroke="#222" stroke-width="0.2">Draft</text>
<circle cx="741.7" cy="609.7" r="4.9" fill="none" stroke="#1c1c1c" stroke-width="1.5"/>
<path d="M736.2,602.6 L740.6,604.4 L737.6,606.6 Z" fill="#1c1c1c"/>
<path d="M744.4,612.6 L747.4,616.8 L743.2,615.0 Z" fill="#1c1c1c"/>
<text x="747.8" y="616.548" font-size="14.3" text-anchor="start" font-weight="normal" font-style="normal" fill="#222" textLength="32.2" lengthAdjust="spacingAndGlyphs" stroke="#222" stroke-width="0.2">nSite</text>
<text x="781.5" y="616.432" font-size="11.2" text-anchor="start" font-weight="normal" font-style="normal" fill="#333" textLength="24.8" lengthAdjust="spacingAndGlyphs" >.com</text>
</g>
</svg>
</body></html>
